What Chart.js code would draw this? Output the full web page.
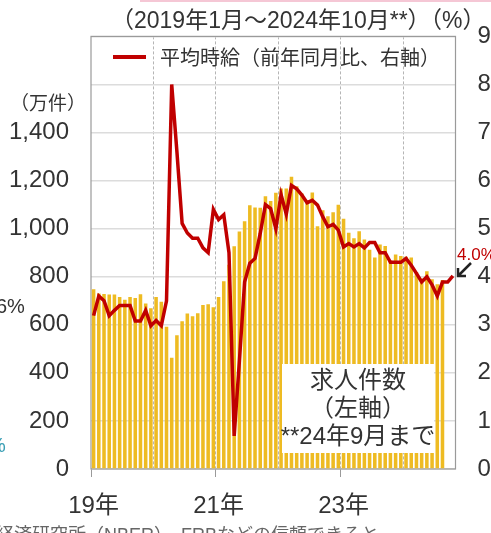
<!DOCTYPE html>
<html>
<head>
<meta charset="utf-8">
<script src="https://cdn.jsdelivr.net/npm/chart.js@4.4.1/dist/chart.umd.min.js"></script>
<style>
  html, body { margin: 0; padding: 0; background: #fff; overflow: hidden; }
  #wrap { position: relative; width: 491px; height: 533px; }
</style>
</head>
<body>
<div id="wrap"><canvas id="chart" width="491" height="533"></canvas></div>
<script>
// x categories: Jan 2019 .. Oct 2024
const years = ['2019', '2020', '2021', '2022', '2023', '2024'];
const monthNums = ['01', '02', '03', '04', '05', '06', '07', '08', '09', '10', '11', '12'];
const months = [];
years.forEach(y => monthNums.forEach(m => { if (!(y === '2024' && m > '10')) months.push(y + '-' + m); }));

// year ticks shown under the axis
const tickMonths = ['2019-01', '2021-01', '2023-01'];
const tickLabels = ['19年', '21年', '23年'];

// job openings (10k), left axis
const openings = [
  748, 730, 728, 726, 726, 716, 704, 716, 711, 727, 689, 669,
  716, 696, 592, 463, 557, 615, 647, 636, 648, 682, 685, 673,
  716, 781, 850, 927, 988, 1031, 1097, 1088, 1087, 1135, 1115, 1149,
  1167, 1167, 1216, 1176, 1146, 1118, 1151, 1010, 1077, 1052, 1068, 1099,
  1041, 983, 960, 989, 955, 912, 880, 934, 928, 868, 892, 886,
  883, 880, 820, 793, 823, 790, 769, 786
];

// average hourly earnings, y/y %, right axis
const wageGrowth = [
  3.19, 3.60, 3.50, 3.19, 3.30, 3.40, 3.40, 3.40, 3.08, 3.08, 3.30, 2.98,
  3.09, 2.98, 3.50, 8.00, 6.60, 5.11, 4.91, 4.80, 4.80, 4.60, 4.50, 5.40,
  5.19, 5.29, 4.50, 0.69, 2.25, 3.89, 4.28, 4.38, 4.90, 5.50, 5.42, 5.00,
  5.71, 5.30, 5.90, 5.83, 5.70, 5.54, 5.59, 5.49, 5.25, 5.04, 5.09, 4.97,
  4.62, 4.69, 4.62, 4.69, 4.60, 4.71, 4.71, 4.50, 4.50, 4.30, 4.30, 4.30,
  4.38, 4.24, 4.07, 3.89, 4.00, 3.83, 3.60, 3.89, 3.89, 4.02
];

const FONT = "'Liberation Sans', 'Noto Sans CJK JP', sans-serif";
const CJK = "'Noto Sans CJK JP', sans-serif";
const RED = '#c00000';
const TEXT = '#333';

// extra drawing: frame, title, legend, notes
const decor = {
  id: 'decor',
  beforeDatasetsDraw(chart) {
    const { ctx, chartArea: a } = chart;
    ctx.save();
    ctx.strokeStyle = '#9a9a9a';
    ctx.lineWidth = 1.2;
    ctx.strokeRect(a.left, a.top, a.right - a.left, a.bottom - a.top);
    ctx.restore();
  },
  afterDraw(chart) {
    const { ctx } = chart;
    ctx.save();
    // pink rule at top (page decoration)
    ctx.fillStyle = '#f5c7d5';
    ctx.fillRect(140, 0, 351, 2);

    ctx.fillStyle = TEXT;
    ctx.textBaseline = 'middle';
    ctx.textAlign = 'left';
    ctx.font = '23px ' + FONT;
    ctx.fillText('（2019年1月～2024年10月**）（%）', 111, 22);

    ctx.font = '19px ' + CJK;
    ctx.fillText('（万件）', 10, 103);

    // legend
    ctx.strokeStyle = RED;
    ctx.lineWidth = 4;
    ctx.beginPath();
    ctx.moveTo(113, 57);
    ctx.lineTo(146, 57);
    ctx.stroke();
    ctx.font = '20px ' + CJK;
    ctx.fillText('平均時給（前年同月比、右軸）', 160, 57);

    // bar note box
    ctx.fillStyle = '#fff';
    ctx.fillRect(282, 364, 152, 89);
    ctx.fillStyle = TEXT;
    ctx.textAlign = 'center';
    ctx.font = '24px ' + FONT;
    ctx.fillText('求人件数', 358, 381);
    ctx.fillText('（左軸）', 358, 409);
    ctx.fillText('**24年9月まで', 358, 437);

    // latest value label + arrow
    ctx.textAlign = 'left';
    ctx.fillStyle = RED;
    ctx.font = '17px ' + FONT;
    ctx.fillText('4.0%', 457, 255);
    ctx.strokeStyle = '#222';
    ctx.lineWidth = 2.5;
    ctx.beginPath();
    ctx.moveTo(471, 263);
    ctx.lineTo(458, 276);
    ctx.moveTo(458, 268);
    ctx.lineTo(458, 276);
    ctx.lineTo(466, 276);
    ctx.stroke();

    // cut-off text from neighbouring content
    ctx.fillStyle = TEXT;
    ctx.font = '20px ' + FONT;
    ctx.fillText('6%', -4, 307);
    ctx.fillStyle = '#3a9fb5';
    ctx.fillText('%', -12, 446);
    ctx.fillStyle = '#666';
    ctx.font = '18px ' + FONT;
    ctx.fillText('経済研究所（NBER）、FRBなどの信頼できると', -4, 536);
    ctx.restore();
  }
};

new Chart(document.getElementById('chart'), {
  type: 'bar',
  data: {
    labels: months,
    datasets: [
      {
        type: 'line',
        label: '平均時給（前年同月比、右軸）',
        data: wageGrowth,
        yAxisID: 'y1',
        borderColor: RED,
        borderWidth: 3.5,
        pointRadius: 0,
        tension: 0,
        order: 0
      },
      {
        type: 'bar',
        label: '求人件数',
        data: openings,
        yAxisID: 'y',
        backgroundColor: '#eebb22',
        barPercentage: 0.68,
        categoryPercentage: 1,
        order: 1
      }
    ]
  },
  options: {
    responsive: false,
    animation: false,
    layout: { padding: { top: 36, left: 0, right: 0, bottom: 0 } },
    plugins: { legend: { display: false }, tooltip: { enabled: false } },
    scales: {
      x: {
        offset: true,
        grid: {
          offset: true,
          color: c => (c.index > 0 && c.index % 12 === 0) ? '#b5b5b5' : 'transparent',
          lineWidth: 1,
          tickLength: 8,
          tickColor: c => tickMonths.includes(months[c.index]) ? '#9a9a9a' : 'transparent'
        },
        border: { display: false, dash: [3, 2] },
        ticks: {
          autoSkip: false,
          maxRotation: 0,
          padding: 15,
          color: TEXT,
          font: { family: FONT, size: 24 },
          callback: (v, i) => {
            const k = tickMonths.indexOf(months[i]);
            return k >= 0 ? tickLabels[k] : '';
          }
        },
        afterFit(s) { s.height = 64; }
      },
      y: {
        position: 'left',
        min: 0,
        max: 1800,
        grid: { color: '#dcdcdc', lineWidth: 1.5, drawTicks: false },
        border: { display: false },
        ticks: {
          stepSize: 200,
          padding: 22,
          color: TEXT,
          font: { family: FONT, size: 24 },
          callback: v => v <= 1400 ? v.toLocaleString('en-US') : ''
        },
        afterFit(s) { s.width = 91; }
      },
      y1: {
        position: 'right',
        min: 0,
        max: 9,
        grid: { display: false, drawTicks: false },
        border: { display: false },
        ticks: {
          stepSize: 1,
          padding: 22,
          color: TEXT,
          font: { family: FONT, size: 24 }
        },
        afterFit(s) { s.width = 35.5; }
      }
    }
  },
  plugins: [decor]
});
</script>
</body>
</html>
